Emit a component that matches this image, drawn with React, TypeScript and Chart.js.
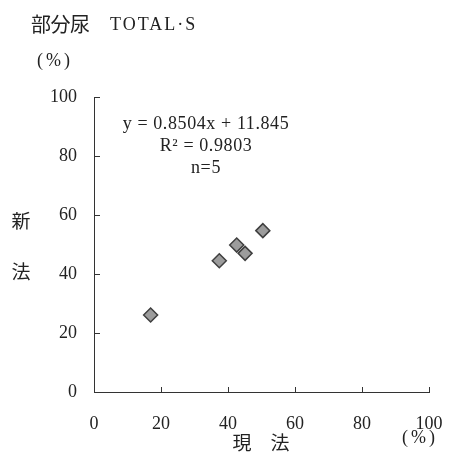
import React, { useEffect, useRef } from "react";
import { Chart, registerables } from "chart.js";

Chart.register(...registerables);

const titleCJK = "部分尿";
const titleLatin = "TOTAL·S";
const xValues = [16.9, 37.4, 42.6, 45.1, 50.4];
const yValues = [26.1, 44.5, 49.8, 47.0, 54.7];
const tickValues = [0, 20, 40, 60, 80, 100];
const equationLines = ["y = 0.8504x + 11.845", "R² = 0.9803", "n=5"];
const yTitleChars = ["新", "法"];
const xTitleChars = ["現", "法"];
const unitText = "(%)";

const FONT = "'Liberation Serif', 'DejaVu Serif', 'Noto Sans CJK JP', serif";
const CJK = "'Noto Sans CJK JP', serif";

const decorPlugin = {
  id: "decor",
  afterDraw(chart: any) {
    const ctx = chart.ctx;
    const xs = chart.scales.x;
    const ys = chart.scales.y;
    const area = chart.chartArea;
    ctx.save();
    // inward tick marks
    ctx.strokeStyle = "#333";
    ctx.lineWidth = 1;
    ctx.beginPath();
    tickValues.forEach((v) => {
      if (v === 0) return;
      const px = Math.round(xs.getPixelForValue(v)) + 0.5;
      ctx.moveTo(px, area.bottom);
      ctx.lineTo(px, area.bottom - 5);
      const py = Math.round(ys.getPixelForValue(v)) + 0.5;
      ctx.moveTo(area.left, py);
      ctx.lineTo(area.left + 6, py);
    });
    ctx.stroke();

    ctx.fillStyle = "#222";
    ctx.textBaseline = "middle";
    // title
    ctx.textAlign = "left";
    ctx.font = `20px ${CJK}`;
    (ctx as any).letterSpacing = "-0.5px";
    ctx.fillText(titleCJK, 31, 24);
    ctx.font = `18px ${FONT}`;
    (ctx as any).letterSpacing = "2px";
    ctx.fillText(titleLatin, 110, 25);
    (ctx as any).letterSpacing = "3px";
    ctx.fillText(unitText, 37, 61);
    // y title
    (ctx as any).letterSpacing = "0px";
    ctx.textAlign = "center";
    ctx.font = `19px ${CJK}`;
    ctx.fillText(yTitleChars[0], 21, 221);
    ctx.fillText(yTitleChars[1], 21, 272);
    // x title
    ctx.fillText(xTitleChars[0], 242, 443);
    ctx.fillText(xTitleChars[1], 280, 443);
    // unit under 100
    ctx.font = `18px ${FONT}`;
    (ctx as any).letterSpacing = "3px";
    ctx.fillText(unitText, 420, 438);
    // equation
    (ctx as any).letterSpacing = "0.6px";
    ctx.font = `18px ${FONT}`;
    const cx = 206;
    equationLines.forEach((line, i) => {
      ctx.fillText(line, cx, 124 + i * 22);
    });
    ctx.restore();
  },
};

export default function App() {
  const ref = useRef<HTMLCanvasElement | null>(null);
  useEffect(() => {
    if (!ref.current) return;
    const chart = new Chart(ref.current, {
      type: "scatter",
      data: {
        datasets: [
          {
            data: xValues.map((x, i) => ({ x, y: yValues[i] })),
            pointStyle: "rectRot",
            pointRadius: 7,
            backgroundColor: "#9c9c9c",
            borderColor: "#3f3f3f",
            borderWidth: 1.5,
          },
        ],
      },
      options: {
        responsive: false,
        animation: false,
        events: [],
        layout: { padding: { left: 0, top: 97, right: 20, bottom: 30 } },
        plugins: { legend: { display: false }, tooltip: { enabled: false }, title: { display: false } },
        scales: {
          x: {
            type: "linear",
            min: 0,
            max: 100,
            afterFit: (s: any) => { s.height = 40; s.paddingLeft = 0; s.paddingRight = 0; },
            afterBuildTicks: (s: any) => { s.ticks = tickValues.map((v) => ({ value: v })); },
            grid: { display: false, drawTicks: false },
            border: { display: true, color: "#333", width: 1 },
            ticks: { padding: 21, color: "#222", font: { family: FONT, size: 18 }, maxRotation: 0 },
          },
          y: {
            type: "linear",
            min: 0,
            max: 100,
            afterFit: (s: any) => { s.width = 94; s.paddingTop = 0; s.paddingBottom = 0; },
            afterBuildTicks: (s: any) => { s.ticks = tickValues.map((v) => ({ value: v })); },
            grid: { display: false, drawTicks: false },
            border: { display: true, color: "#333", width: 1 },
            ticks: { padding: 17, color: "#222", font: { family: FONT, size: 18 } },
          },
        },
      },
      plugins: [decorPlugin],
    });
    return () => chart.destroy();
  }, []);
  return (
    <div style={{ position: "absolute", left: 0, top: 0, width: 449, height: 462, background: "#fff" }}>
      <canvas ref={ref} width={449} height={462} />
    </div>
  );
}
